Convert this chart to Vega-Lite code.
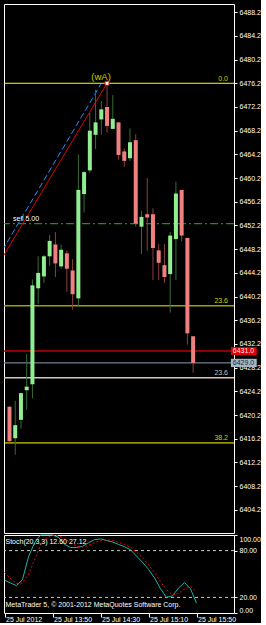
{
  "$schema": "https://vega.github.io/schema/vega-lite/v6.json",
  "background": "#000000",
  "padding": {"left": 2, "top": 3, "right": 0, "bottom": 0},
  "bounds": "flush",
  "spacing": 2,
  "config": {
    "view": {"stroke": "#ffffff", "strokeWidth": 1},
    "axis": {"grid": false, "domain": false, "labelColor": "#ffffff", "tickColor": "#ffffff", "labelFont": "Liberation Sans", "labelFontSize": 7, "tickSize": 3, "labelPadding": 2, "labelOverlap": false},
    "text": {"font": "Liberation Sans"}
  },
  "datasets": {
    "bars": [
      {"t": "2012-07-25T13:10:00", "o": 6421.6, "h": 6421.7, "l": 6415.6, "c": 6415.8, "k": 42, "d": 52},
      {"t": "2012-07-25T13:15:00", "o": 6416.3, "h": 6422.6, "l": 6413.5, "c": 6418.5, "k": 38.5, "d": 44},
      {"t": "2012-07-25T13:20:00", "o": 6419.4, "h": 6423.9, "l": 6417.9, "c": 6423.9, "k": 35, "d": 38},
      {"t": "2012-07-25T13:25:00", "o": 6424.4, "h": 6430.5, "l": 6421.1, "c": 6425.0, "k": 43, "d": 38.5},
      {"t": "2012-07-25T13:30:00", "o": 6425.4, "h": 6443.1, "l": 6423.0, "c": 6442.1, "k": 72, "d": 50},
      {"t": "2012-07-25T13:35:00", "o": 6441.6, "h": 6447.0, "l": 6439.0, "c": 6444.2, "k": 90, "d": 68},
      {"t": "2012-07-25T13:40:00", "o": 6443.6, "h": 6447.2, "l": 6442.5, "c": 6447.0, "k": 100, "d": 87},
      {"t": "2012-07-25T13:45:00", "o": 6447.0, "h": 6450.6, "l": 6445.4, "c": 6449.6, "k": 100, "d": 96},
      {"t": "2012-07-25T13:50:00", "o": 6449.0, "h": 6451.1, "l": 6443.5, "c": 6445.8, "k": 100, "d": 100},
      {"t": "2012-07-25T13:55:00", "o": 6445.3, "h": 6449.0, "l": 6444.9, "c": 6448.1, "k": 97, "d": 99},
      {"t": "2012-07-25T14:00:00", "o": 6447.5, "h": 6448.0, "l": 6441.0, "c": 6444.9, "k": 88, "d": 95},
      {"t": "2012-07-25T14:05:00", "o": 6444.6, "h": 6446.5, "l": 6438.0, "c": 6440.6, "k": 84, "d": 90},
      {"t": "2012-07-25T14:10:00", "o": 6439.9, "h": 6464.2, "l": 6438.5, "c": 6458.2, "k": 84, "d": 86},
      {"t": "2012-07-25T14:15:00", "o": 6457.5, "h": 6461.4, "l": 6454.4, "c": 6461.2, "k": 85.5, "d": 84.5},
      {"t": "2012-07-25T14:20:00", "o": 6461.5, "h": 6471.2, "l": 6461.1, "c": 6468.2, "k": 90, "d": 86.5},
      {"t": "2012-07-25T14:25:00", "o": 6467.5, "h": 6475.1, "l": 6465.1, "c": 6469.6, "k": 94, "d": 90},
      {"t": "2012-07-25T14:30:00", "o": 6470.1, "h": 6473.2, "l": 6467.5, "c": 6471.8, "k": 95, "d": 93},
      {"t": "2012-07-25T14:35:00", "o": 6472.2, "h": 6476.2, "l": 6467.9, "c": 6469.0, "k": 93, "d": 94},
      {"t": "2012-07-25T14:40:00", "o": 6468.5, "h": 6474.2, "l": 6468.5, "c": 6470.2, "k": 91, "d": 93},
      {"t": "2012-07-25T14:45:00", "o": 6469.6, "h": 6469.6, "l": 6463.3, "c": 6464.1, "k": 88, "d": 90.7},
      {"t": "2012-07-25T14:50:00", "o": 6464.7, "h": 6465.2, "l": 6462.1, "c": 6463.1, "k": 85, "d": 88},
      {"t": "2012-07-25T14:55:00", "o": 6463.55, "h": 6468.6, "l": 6463.1, "c": 6466.25, "k": 81, "d": 84.5},
      {"t": "2012-07-25T15:00:00", "o": 6466.6, "h": 6467.6, "l": 6452.0, "c": 6452.5, "k": 73, "d": 78},
      {"t": "2012-07-25T15:05:00", "o": 6452.0, "h": 6454.7, "l": 6447.4, "c": 6453.65, "k": 65, "d": 71},
      {"t": "2012-07-25T15:10:00", "o": 6454.1, "h": 6460.2, "l": 6447.9, "c": 6453.55, "k": 56, "d": 62},
      {"t": "2012-07-25T15:15:00", "o": 6454.1, "h": 6455.1, "l": 6443.0, "c": 6448.4, "k": 45, "d": 52},
      {"t": "2012-07-25T15:20:00", "o": 6448.0, "h": 6449.05, "l": 6443.0, "c": 6445.9, "k": 31, "d": 40},
      {"t": "2012-07-25T15:25:00", "o": 6445.5, "h": 6449.05, "l": 6442.5, "c": 6443.5, "k": 20, "d": 30},
      {"t": "2012-07-25T15:30:00", "o": 6444.0, "h": 6451.1, "l": 6437.5, "c": 6450.5, "k": 22, "d": 23},
      {"t": "2012-07-25T15:35:00", "o": 6449.9, "h": 6459.6, "l": 6443.0, "c": 6457.6, "k": 32, "d": 25},
      {"t": "2012-07-25T15:40:00", "o": 6458.2, "h": 6458.2, "l": 6449.5, "c": 6450.5, "k": 39, "d": 31},
      {"t": "2012-07-25T15:45:00", "o": 6450.1, "h": 6450.1, "l": 6432.1, "c": 6434.0, "k": 31, "d": 34},
      {"t": "2012-07-25T15:50:00", "o": 6433.5, "h": 6433.5, "l": 6427.35, "c": 6429.0, "k": 12.6, "d": 27.12}
    ],
    "levels": [
      {"name": "fib0", "price": 6476.2, "label": "0.0"},
      {"name": "fib236a", "price": 6438.65, "label": "23.6"},
      {"name": "fib236b", "price": 6426.5, "label": "23.6"},
      {"name": "fib382", "price": 6415.5, "label": "38.2"},
      {"name": "sell", "price": 6452.5, "label": "sell 5.00"},
      {"name": "ask", "price": 6431.0, "label": "6431.0"},
      {"name": "bid", "price": 6429.0, "label": "6429.0"}
    ],
    "trend": [
      {"line": "red", "t": "2012-07-25T13:00:00", "p": 6445.55},
      {"line": "red", "t": "2012-07-25T14:35:00", "p": 6476.2},
      {"line": "blue", "t": "2012-07-25T13:00:00", "p": 6446.75},
      {"line": "blue", "t": "2012-07-25T14:29:35", "p": 6476.05}
    ],
    "wave": [
      {"t": "2012-07-25T14:35:00", "p": 6476.2, "label": "(wA)"}
    ],
    "stochlevels": [{"v": 80}, {"v": 20}],
    "notes": [
      {"name": "stoch", "v": 91, "label": "Stoch(20,3,3) 12.60 27.12"},
      {"name": "copy", "v": 10.5, "label": "MetaTrader 5, © 2001-2012 MetaQuotes Software Corp."}
    ]
  },
  "vconcat": [
    {
      "width": 230,
      "height": 529,
      "layer": [
        {
          "data": {"name": "levels"},
          "transform": [{"filter": "datum.name == 'fib0' || datum.name == 'fib382'"}],
          "mark": {"type": "rule", "color": "#ffff00", "strokeWidth": 1},
          "encoding": {
            "y": {"field": "price", "type": "quantitative", "scale": {"domain": [6400.3, 6489.58], "nice": false, "zero": false}, "axis": {"orient": "right", "values": [6404.2, 6408.2, 6412.2, 6416.2, 6420.2, 6424.2, 6428.2, 6432.2, 6436.2, 6440.2, 6444.2, 6448.2, 6452.2, 6456.2, 6460.2, 6464.2, 6468.2, 6472.2, 6476.2, 6480.2, 6484.2, 6488.2], "format": ".1f", "title": null, "zindex": 0}}
          }
        },
        {
          "data": {"name": "levels"},
          "transform": [{"filter": "datum.name == 'fib236a'"}],
          "mark": {"type": "rule", "color": "#a0a000", "strokeWidth": 1.3},
          "encoding": {
            "y": {"field": "price", "type": "quantitative", "scale": {"domain": [6400.3, 6489.58], "nice": false, "zero": false}, "axis": {"orient": "right", "values": [6404.2, 6408.2, 6412.2, 6416.2, 6420.2, 6424.2, 6428.2, 6432.2, 6436.2, 6440.2, 6444.2, 6448.2, 6452.2, 6456.2, 6460.2, 6464.2, 6468.2, 6472.2, 6476.2, 6480.2, 6484.2, 6488.2], "format": ".1f", "title": null, "zindex": 0}}
          }
        },
        {
          "data": {"name": "levels"},
          "transform": [{"filter": "datum.name == 'fib236b'"}],
          "mark": {"type": "rule", "color": "#d8c8b8", "strokeWidth": 1.3},
          "encoding": {
            "y": {"field": "price", "type": "quantitative", "scale": {"domain": [6400.3, 6489.58], "nice": false, "zero": false}, "axis": {"orient": "right", "values": [6404.2, 6408.2, 6412.2, 6416.2, 6420.2, 6424.2, 6428.2, 6432.2, 6436.2, 6440.2, 6444.2, 6448.2, 6452.2, 6456.2, 6460.2, 6464.2, 6468.2, 6472.2, 6476.2, 6480.2, 6484.2, 6488.2], "format": ".1f", "title": null, "zindex": 0}}
          }
        },
        {
          "data": {"name": "levels"},
          "transform": [{"filter": "datum.name == 'sell'"}],
          "mark": {"type": "rule", "color": "#22b422", "strokeWidth": 1, "strokeDash": [8, 3, 2, 3]},
          "encoding": {
            "y": {"field": "price", "type": "quantitative", "scale": {"domain": [6400.3, 6489.58], "nice": false, "zero": false}, "axis": {"orient": "right", "values": [6404.2, 6408.2, 6412.2, 6416.2, 6420.2, 6424.2, 6428.2, 6432.2, 6436.2, 6440.2, 6444.2, 6448.2, 6452.2, 6456.2, 6460.2, 6464.2, 6468.2, 6472.2, 6476.2, 6480.2, 6484.2, 6488.2], "format": ".1f", "title": null, "zindex": 0}}
          }
        },
        {
          "data": {"name": "levels"},
          "transform": [{"filter": "datum.name == 'ask'"}],
          "mark": {"type": "rule", "color": "#c00000", "strokeWidth": 1.5},
          "encoding": {
            "y": {"field": "price", "type": "quantitative", "scale": {"domain": [6400.3, 6489.58], "nice": false, "zero": false}, "axis": {"orient": "right", "values": [6404.2, 6408.2, 6412.2, 6416.2, 6420.2, 6424.2, 6428.2, 6432.2, 6436.2, 6440.2, 6444.2, 6448.2, 6452.2, 6456.2, 6460.2, 6464.2, 6468.2, 6472.2, 6476.2, 6480.2, 6484.2, 6488.2], "format": ".1f", "title": null, "zindex": 0}}
          }
        },
        {
          "data": {"name": "levels"},
          "transform": [{"filter": "datum.name == 'bid'"}],
          "mark": {"type": "rule", "color": "#708090", "strokeWidth": 1.3},
          "encoding": {
            "y": {"field": "price", "type": "quantitative", "scale": {"domain": [6400.3, 6489.58], "nice": false, "zero": false}, "axis": {"orient": "right", "values": [6404.2, 6408.2, 6412.2, 6416.2, 6420.2, 6424.2, 6428.2, 6432.2, 6436.2, 6440.2, 6444.2, 6448.2, 6452.2, 6456.2, 6460.2, 6464.2, 6468.2, 6472.2, 6476.2, 6480.2, 6484.2, 6488.2], "format": ".1f", "title": null, "zindex": 0}}
          }
        },
        {
          "data": {"name": "trend"},
          "transform": [{"filter": "datum.line == 'red'"}],
          "mark": {"type": "line", "color": "#e00000", "strokeWidth": 1, "clip": true},
          "encoding": {
            "x": {"field": "t", "type": "temporal", "scale": {"domain": [{"year": 2012, "month": 7, "date": 25, "hours": 13, "minutes": 9, "seconds": 35}, {"year": 2012, "month": 7, "date": 25, "hours": 16, "minutes": 21, "seconds": 15}]}, "axis": null},
            "y": {"field": "p", "type": "quantitative", "scale": {"domain": [6400.3, 6489.58], "nice": false, "zero": false}, "axis": {"orient": "right", "values": [6404.2, 6408.2, 6412.2, 6416.2, 6420.2, 6424.2, 6428.2, 6432.2, 6436.2, 6440.2, 6444.2, 6448.2, 6452.2, 6456.2, 6460.2, 6464.2, 6468.2, 6472.2, 6476.2, 6480.2, 6484.2, 6488.2], "format": ".1f", "title": null, "zindex": 0}}
          }
        },
        {
          "data": {"name": "trend"},
          "transform": [{"filter": "datum.line == 'blue'"}],
          "mark": {"type": "line", "color": "#1e90ff", "strokeWidth": 1, "strokeDash": [6, 3], "clip": true},
          "encoding": {
            "x": {"field": "t", "type": "temporal", "scale": {"domain": [{"year": 2012, "month": 7, "date": 25, "hours": 13, "minutes": 9, "seconds": 35}, {"year": 2012, "month": 7, "date": 25, "hours": 16, "minutes": 21, "seconds": 15}]}, "axis": null},
            "y": {"field": "p", "type": "quantitative", "scale": {"domain": [6400.3, 6489.58], "nice": false, "zero": false}, "axis": {"orient": "right", "values": [6404.2, 6408.2, 6412.2, 6416.2, 6420.2, 6424.2, 6428.2, 6432.2, 6436.2, 6440.2, 6444.2, 6448.2, 6452.2, 6456.2, 6460.2, 6464.2, 6468.2, 6472.2, 6476.2, 6480.2, 6484.2, 6488.2], "format": ".1f", "title": null, "zindex": 0}}
          }
        },
        {
          "data": {"name": "bars"},
          "mark": {"type": "rule", "strokeWidth": 1, "clip": true},
          "encoding": {
            "x": {"field": "t", "type": "temporal", "scale": {"domain": [{"year": 2012, "month": 7, "date": 25, "hours": 13, "minutes": 9, "seconds": 35}, {"year": 2012, "month": 7, "date": 25, "hours": 16, "minutes": 21, "seconds": 15}]}, "axis": null},
            "y": {"field": "l", "type": "quantitative", "scale": {"domain": [6400.3, 6489.58], "nice": false, "zero": false}, "axis": {"orient": "right", "values": [6404.2, 6408.2, 6412.2, 6416.2, 6420.2, 6424.2, 6428.2, 6432.2, 6436.2, 6440.2, 6444.2, 6448.2, 6452.2, 6456.2, 6460.2, 6464.2, 6468.2, 6472.2, 6476.2, 6480.2, 6484.2, 6488.2], "format": ".1f", "title": null, "zindex": 0}},
            "y2": {"field": "h"},
            "color": {"condition": {"test": "datum.c >= datum.o", "value": "#3a6b3a"}, "value": "#8b4040"}
          }
        },
        {
          "data": {"name": "bars"},
          "mark": {"type": "bar", "size": 4, "clip": true},
          "encoding": {
            "x": {"field": "t", "type": "temporal", "scale": {"domain": [{"year": 2012, "month": 7, "date": 25, "hours": 13, "minutes": 9, "seconds": 35}, {"year": 2012, "month": 7, "date": 25, "hours": 16, "minutes": 21, "seconds": 15}]}, "axis": null},
            "y": {"field": "o", "type": "quantitative", "scale": {"domain": [6400.3, 6489.58], "nice": false, "zero": false}, "axis": {"orient": "right", "values": [6404.2, 6408.2, 6412.2, 6416.2, 6420.2, 6424.2, 6428.2, 6432.2, 6436.2, 6440.2, 6444.2, 6448.2, 6452.2, 6456.2, 6460.2, 6464.2, 6468.2, 6472.2, 6476.2, 6480.2, 6484.2, 6488.2], "format": ".1f", "title": null, "zindex": 0}},
            "y2": {"field": "c"},
            "color": {"condition": {"test": "datum.c >= datum.o", "value": "#90ee90"}, "value": "#f08080"}
          }
        },
        {
          "data": {"name": "wave"},
          "mark": {"type": "point", "shape": "square", "size": 16, "filled": true, "fill": "#ffffff", "stroke": "#e00000", "strokeWidth": 1, "opacity": 1},
          "encoding": {
            "x": {"field": "t", "type": "temporal", "scale": {"domain": [{"year": 2012, "month": 7, "date": 25, "hours": 13, "minutes": 9, "seconds": 35}, {"year": 2012, "month": 7, "date": 25, "hours": 16, "minutes": 21, "seconds": 15}]}, "axis": null},
            "y": {"field": "p", "type": "quantitative", "scale": {"domain": [6400.3, 6489.58], "nice": false, "zero": false}, "axis": {"orient": "right", "values": [6404.2, 6408.2, 6412.2, 6416.2, 6420.2, 6424.2, 6428.2, 6432.2, 6436.2, 6440.2, 6444.2, 6448.2, 6452.2, 6456.2, 6460.2, 6464.2, 6468.2, 6472.2, 6476.2, 6480.2, 6484.2, 6488.2], "format": ".1f", "title": null, "zindex": 0}}
          }
        },
        {
          "data": {"name": "wave"},
          "mark": {"type": "text", "color": "#d0c800", "fontSize": 9.5, "align": "center", "baseline": "bottom", "dx": -6, "dy": -1},
          "encoding": {
            "x": {"field": "t", "type": "temporal", "scale": {"domain": [{"year": 2012, "month": 7, "date": 25, "hours": 13, "minutes": 9, "seconds": 35}, {"year": 2012, "month": 7, "date": 25, "hours": 16, "minutes": 21, "seconds": 15}]}, "axis": null},
            "y": {"field": "p", "type": "quantitative", "scale": {"domain": [6400.3, 6489.58], "nice": false, "zero": false}, "axis": {"orient": "right", "values": [6404.2, 6408.2, 6412.2, 6416.2, 6420.2, 6424.2, 6428.2, 6432.2, 6436.2, 6440.2, 6444.2, 6448.2, 6452.2, 6456.2, 6460.2, 6464.2, 6468.2, 6472.2, 6476.2, 6480.2, 6484.2, 6488.2], "format": ".1f", "title": null, "zindex": 0}},
            "text": {"field": "label"}
          }
        },
        {
          "data": {"name": "levels"},
          "transform": [{"filter": "datum.name == 'fib0' || datum.name == 'fib236a' || datum.name == 'fib382'"}],
          "mark": {"type": "text", "color": "#d0d000", "fontSize": 7, "align": "right", "baseline": "bottom", "dx": -1, "dy": -1.5},
          "encoding": {
            "x": {"datum": {"year": 2012, "month": 7, "date": 25, "hours": 16, "minutes": 21, "seconds": 15}, "type": "temporal", "scale": {"domain": [{"year": 2012, "month": 7, "date": 25, "hours": 13, "minutes": 9, "seconds": 35}, {"year": 2012, "month": 7, "date": 25, "hours": 16, "minutes": 21, "seconds": 15}]}, "axis": null},
            "y": {"field": "price", "type": "quantitative", "scale": {"domain": [6400.3, 6489.58], "nice": false, "zero": false}, "axis": {"orient": "right", "values": [6404.2, 6408.2, 6412.2, 6416.2, 6420.2, 6424.2, 6428.2, 6432.2, 6436.2, 6440.2, 6444.2, 6448.2, 6452.2, 6456.2, 6460.2, 6464.2, 6468.2, 6472.2, 6476.2, 6480.2, 6484.2, 6488.2], "format": ".1f", "title": null, "zindex": 0}},
            "text": {"field": "label"}
          }
        },
        {
          "data": {"name": "levels"},
          "transform": [{"filter": "datum.name == 'fib236b'"}],
          "mark": {"type": "text", "color": "#d2c3b4", "fontSize": 7, "align": "right", "baseline": "bottom", "dx": -1, "dy": -1.5},
          "encoding": {
            "x": {"datum": {"year": 2012, "month": 7, "date": 25, "hours": 16, "minutes": 21, "seconds": 15}, "type": "temporal", "scale": {"domain": [{"year": 2012, "month": 7, "date": 25, "hours": 13, "minutes": 9, "seconds": 35}, {"year": 2012, "month": 7, "date": 25, "hours": 16, "minutes": 21, "seconds": 15}]}, "axis": null},
            "y": {"field": "price", "type": "quantitative", "scale": {"domain": [6400.3, 6489.58], "nice": false, "zero": false}, "axis": {"orient": "right", "values": [6404.2, 6408.2, 6412.2, 6416.2, 6420.2, 6424.2, 6428.2, 6432.2, 6436.2, 6440.2, 6444.2, 6448.2, 6452.2, 6456.2, 6460.2, 6464.2, 6468.2, 6472.2, 6476.2, 6480.2, 6484.2, 6488.2], "format": ".1f", "title": null, "zindex": 0}},
            "text": {"field": "label"}
          }
        },
        {
          "data": {"name": "levels"},
          "transform": [{"filter": "datum.name == 'sell'"}],
          "mark": {"type": "text", "color": "#ffffff", "fontSize": 7, "align": "left", "baseline": "bottom", "dx": 4, "dy": -2},
          "encoding": {
            "x": {"datum": {"year": 2012, "month": 7, "date": 25, "hours": 13, "minutes": 9, "seconds": 35}, "type": "temporal", "scale": {"domain": [{"year": 2012, "month": 7, "date": 25, "hours": 13, "minutes": 9, "seconds": 35}, {"year": 2012, "month": 7, "date": 25, "hours": 16, "minutes": 21, "seconds": 15}]}, "axis": null},
            "y": {"field": "price", "type": "quantitative", "scale": {"domain": [6400.3, 6489.58], "nice": false, "zero": false}, "axis": {"orient": "right", "values": [6404.2, 6408.2, 6412.2, 6416.2, 6420.2, 6424.2, 6428.2, 6432.2, 6436.2, 6440.2, 6444.2, 6448.2, 6452.2, 6456.2, 6460.2, 6464.2, 6468.2, 6472.2, 6476.2, 6480.2, 6484.2, 6488.2], "format": ".1f", "title": null, "zindex": 0}},
            "text": {"field": "label"}
          }
        },
        {
          "data": {"name": "levels"},
          "transform": [{"filter": "datum.name == 'ask'"}],
          "mark": {"type": "rect", "color": "#e00000"},
          "encoding": {
            "x": {"datum": {"year": 2012, "month": 7, "date": 25, "hours": 16, "minutes": 22, "seconds": 55}, "type": "temporal", "scale": {"domain": [{"year": 2012, "month": 7, "date": 25, "hours": 13, "minutes": 9, "seconds": 35}, {"year": 2012, "month": 7, "date": 25, "hours": 16, "minutes": 21, "seconds": 15}]}, "axis": null},
            "x2": {"datum": {"year": 2012, "month": 7, "date": 25, "hours": 16, "minutes": 45, "seconds": 25}},
            "y": {"datum": 6430.33, "type": "quantitative", "scale": {"domain": [6400.3, 6489.58], "nice": false, "zero": false}, "axis": {"orient": "right", "values": [6404.2, 6408.2, 6412.2, 6416.2, 6420.2, 6424.2, 6428.2, 6432.2, 6436.2, 6440.2, 6444.2, 6448.2, 6452.2, 6456.2, 6460.2, 6464.2, 6468.2, 6472.2, 6476.2, 6480.2, 6484.2, 6488.2], "format": ".1f", "title": null, "zindex": 0}},
            "y2": {"datum": 6431.67}
          }
        },
        {
          "data": {"name": "levels"},
          "transform": [{"filter": "datum.name == 'bid'"}],
          "mark": {"type": "rect", "color": "#a4b4c4"},
          "encoding": {
            "x": {"datum": {"year": 2012, "month": 7, "date": 25, "hours": 16, "minutes": 22, "seconds": 55}, "type": "temporal", "scale": {"domain": [{"year": 2012, "month": 7, "date": 25, "hours": 13, "minutes": 9, "seconds": 35}, {"year": 2012, "month": 7, "date": 25, "hours": 16, "minutes": 21, "seconds": 15}]}, "axis": null},
            "x2": {"datum": {"year": 2012, "month": 7, "date": 25, "hours": 16, "minutes": 45, "seconds": 25}},
            "y": {"datum": 6428.3, "type": "quantitative", "scale": {"domain": [6400.3, 6489.58], "nice": false, "zero": false}, "axis": {"orient": "right", "values": [6404.2, 6408.2, 6412.2, 6416.2, 6420.2, 6424.2, 6428.2, 6432.2, 6436.2, 6440.2, 6444.2, 6448.2, 6452.2, 6456.2, 6460.2, 6464.2, 6468.2, 6472.2, 6476.2, 6480.2, 6484.2, 6488.2], "format": ".1f", "title": null, "zindex": 0}},
            "y2": {"datum": 6429.7}
          }
        },
        {
          "data": {"name": "levels"},
          "transform": [{"filter": "datum.name == 'ask'"}],
          "mark": {"type": "text", "color": "#ffe0e0", "fontSize": 7, "align": "left", "baseline": "middle"},
          "encoding": {
            "x": {"datum": {"year": 2012, "month": 7, "date": 25, "hours": 16, "minutes": 24, "seconds": 35}, "type": "temporal", "scale": {"domain": [{"year": 2012, "month": 7, "date": 25, "hours": 13, "minutes": 9, "seconds": 35}, {"year": 2012, "month": 7, "date": 25, "hours": 16, "minutes": 21, "seconds": 15}]}, "axis": null},
            "y": {"field": "price", "type": "quantitative", "scale": {"domain": [6400.3, 6489.58], "nice": false, "zero": false}, "axis": {"orient": "right", "values": [6404.2, 6408.2, 6412.2, 6416.2, 6420.2, 6424.2, 6428.2, 6432.2, 6436.2, 6440.2, 6444.2, 6448.2, 6452.2, 6456.2, 6460.2, 6464.2, 6468.2, 6472.2, 6476.2, 6480.2, 6484.2, 6488.2], "format": ".1f", "title": null, "zindex": 0}},
            "text": {"field": "label"}
          }
        },
        {
          "data": {"name": "levels"},
          "transform": [{"filter": "datum.name == 'bid'"}],
          "mark": {"type": "text", "color": "#1c2838", "fontSize": 7, "align": "left", "baseline": "middle"},
          "encoding": {
            "x": {"datum": {"year": 2012, "month": 7, "date": 25, "hours": 16, "minutes": 24, "seconds": 35}, "type": "temporal", "scale": {"domain": [{"year": 2012, "month": 7, "date": 25, "hours": 13, "minutes": 9, "seconds": 35}, {"year": 2012, "month": 7, "date": 25, "hours": 16, "minutes": 21, "seconds": 15}]}, "axis": null},
            "y": {"field": "price", "type": "quantitative", "scale": {"domain": [6400.3, 6489.58], "nice": false, "zero": false}, "axis": {"orient": "right", "values": [6404.2, 6408.2, 6412.2, 6416.2, 6420.2, 6424.2, 6428.2, 6432.2, 6436.2, 6440.2, 6444.2, 6448.2, 6452.2, 6456.2, 6460.2, 6464.2, 6468.2, 6472.2, 6476.2, 6480.2, 6484.2, 6488.2], "format": ".1f", "title": null, "zindex": 0}},
            "text": {"field": "label"}
          }
        }
      ]
    },
    {
      "width": 230,
      "height": 78,
      "layer": [
        {
          "data": {"name": "stochlevels"},
          "mark": {"type": "rule", "color": "#c8c8c8", "strokeWidth": 1, "strokeDash": [3, 3]},
          "encoding": {
            "y": {"field": "v", "type": "quantitative", "scale": {"domain": [0, 100], "nice": false}, "axis": {"orient": "right", "values": [0, 20, 80, 100], "format": ".2f", "labelFlush": true, "title": null}}
          }
        },
        {
          "data": {"name": "bars"},
          "mark": {"type": "line", "color": "#20b2aa", "strokeWidth": 1},
          "encoding": {
            "x": {"field": "t", "type": "temporal", "scale": {"domain": [{"year": 2012, "month": 7, "date": 25, "hours": 13, "minutes": 9, "seconds": 35}, {"year": 2012, "month": 7, "date": 25, "hours": 16, "minutes": 21, "seconds": 15}]}, "axis": {"values": [{"year": 2012, "month": 7, "date": 25, "hours": 13, "minutes": 10}, {"year": 2012, "month": 7, "date": 25, "hours": 13, "minutes": 50}, {"year": 2012, "month": 7, "date": 25, "hours": 14, "minutes": 30}, {"year": 2012, "month": 7, "date": 25, "hours": 15, "minutes": 10}, {"year": 2012, "month": 7, "date": 25, "hours": 15, "minutes": 50}], "labelExpr": "(hours(datum.value) == 13 && minutes(datum.value) == 10) ? '25 Jul 2012' : timeFormat(datum.value, '%d %b %H:%M')", "labelAlign": "left", "labelOffset": 1, "tickSize": 4, "labelPadding": -2, "labelFlush": false, "title": null}},
            "y": {"field": "k", "type": "quantitative", "scale": {"domain": [0, 100], "nice": false}, "axis": {"orient": "right", "values": [0, 20, 80, 100], "format": ".2f", "labelFlush": true, "title": null}}
          }
        },
        {
          "data": {"name": "bars"},
          "mark": {"type": "line", "color": "#ff0000", "strokeWidth": 1, "strokeDash": [2, 2]},
          "encoding": {
            "x": {"field": "t", "type": "temporal", "scale": {"domain": [{"year": 2012, "month": 7, "date": 25, "hours": 13, "minutes": 9, "seconds": 35}, {"year": 2012, "month": 7, "date": 25, "hours": 16, "minutes": 21, "seconds": 15}]}, "axis": {"values": [{"year": 2012, "month": 7, "date": 25, "hours": 13, "minutes": 10}, {"year": 2012, "month": 7, "date": 25, "hours": 13, "minutes": 50}, {"year": 2012, "month": 7, "date": 25, "hours": 14, "minutes": 30}, {"year": 2012, "month": 7, "date": 25, "hours": 15, "minutes": 10}, {"year": 2012, "month": 7, "date": 25, "hours": 15, "minutes": 50}], "labelExpr": "(hours(datum.value) == 13 && minutes(datum.value) == 10) ? '25 Jul 2012' : timeFormat(datum.value, '%d %b %H:%M')", "labelAlign": "left", "labelOffset": 1, "tickSize": 4, "labelPadding": -2, "labelFlush": false, "title": null}},
            "y": {"field": "d", "type": "quantitative", "scale": {"domain": [0, 100], "nice": false}, "axis": {"orient": "right", "values": [0, 20, 80, 100], "format": ".2f", "labelFlush": true, "title": null}}
          }
        },
        {
          "data": {"name": "notes"},
          "mark": {"type": "text", "color": "#ffffff", "fontSize": 7, "align": "left", "baseline": "middle"},
          "encoding": {
            "x": {"datum": {"year": 2012, "month": 7, "date": 25, "hours": 13, "minutes": 10, "seconds": 50}, "type": "temporal", "scale": {"domain": [{"year": 2012, "month": 7, "date": 25, "hours": 13, "minutes": 9, "seconds": 35}, {"year": 2012, "month": 7, "date": 25, "hours": 16, "minutes": 21, "seconds": 15}]}, "axis": {"values": [{"year": 2012, "month": 7, "date": 25, "hours": 13, "minutes": 10}, {"year": 2012, "month": 7, "date": 25, "hours": 13, "minutes": 50}, {"year": 2012, "month": 7, "date": 25, "hours": 14, "minutes": 30}, {"year": 2012, "month": 7, "date": 25, "hours": 15, "minutes": 10}, {"year": 2012, "month": 7, "date": 25, "hours": 15, "minutes": 50}], "labelExpr": "(hours(datum.value) == 13 && minutes(datum.value) == 10) ? '25 Jul 2012' : timeFormat(datum.value, '%d %b %H:%M')", "labelAlign": "left", "labelOffset": 1, "tickSize": 4, "labelPadding": -2, "labelFlush": false, "title": null}},
            "y": {"field": "v", "type": "quantitative", "scale": {"domain": [0, 100], "nice": false}, "axis": {"orient": "right", "values": [0, 20, 80, 100], "format": ".2f", "labelFlush": true, "title": null}},
            "text": {"field": "label"}
          }
        }
      ]
    }
  ]
}
